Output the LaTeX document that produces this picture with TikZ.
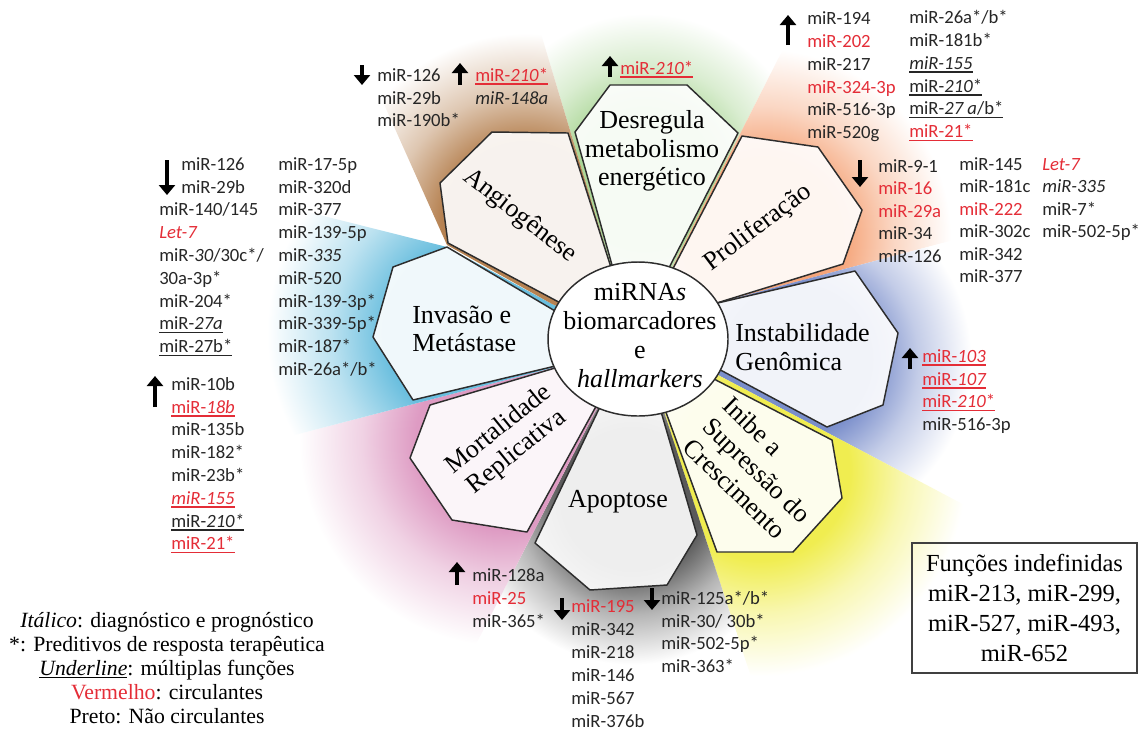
\documentclass[tikz,border=0pt]{standalone}
\usepackage{fontspec}
\setmainfont{Liberation Serif}
\newfontfamily\mirfont{Carlito}
\usetikzlibrary{arrows.meta}

\definecolor{mirred}{RGB}{228,45,55}
\definecolor{petalline}{RGB}{45,45,45}
\definecolor{glowgreen}{RGB}{172,215,152}
\definecolor{gloworange}{RGB}{245,165,122}
\definecolor{glowblue}{RGB}{122,142,203}
\definecolor{glowyellow}{RGB}{240,237,80}
\definecolor{glowgray}{RGB}{90,90,90}
\definecolor{glowpink}{RGB}{222,155,195}
\definecolor{glowcyan}{RGB}{105,190,222}
\definecolor{glowbrown}{RGB}{182,130,82}
\colorlet{glowcol}{glowgreen}

\pgfdeclareradialshading[glowcol]{glow}{\pgfpoint{0bp}{0bp}}{color(0bp)=(glowcol);
  color(10bp)=(glowcol); color(16bp)=(glowcol!45!white); color(23bp)=(white); color(50bp)=(white)}

\newcommand{\rd}[1]{\textcolor{mirred}{#1}}
\newcommand{\mirline}[1]{\setbox0=\hbox{#1}\leavevmode\rlap{\rule[-2.6pt]{\wd0}{1.1pt}}\box0}

\tikzset{
  petalbox/.style={draw=petalline, line width=1.1pt, fill=white, fill opacity=0.9, line join=round},
  hallmark/.style={font=\fontsize{19.5}{21.5}\selectfont, align=center, inner sep=0pt},
  mir/.style={font=\mirfont\fontsize{14}{17}\selectfont, text=black!85, anchor=west,
    inner sep=0pt, text height=9.5pt, text depth=3pt},
  mirarrow/.style={line width=3.3pt, -{Triangle[width=12pt,length=7.5pt]}},
}

\begin{document}
\begin{tikzpicture}[x=0.75pt,y=-0.75pt]
\useasboundingbox (0,0) rectangle (1144,733);

% coloured glows, one wedge per hallmark
\begin{scope}
\clip (638,339) -- (612,270) -- (468,-209) -- (901,-183) -- (675,262) -- cycle;
\colorlet{glowcol}{glowgreen}\shade[shading=glow] (644,179) circle (135pt);
\end{scope}
\begin{scope}
\clip (638,339) -- (675,262) -- (901,-183) -- (1203,174) -- (720,302) -- cycle;
\colorlet{glowcol}{gloworange}\shade[shading=glow] (762,238) circle (154pt);
\end{scope}
\begin{scope}
\clip (638,339) -- (720,302) -- (1203,174) -- (1158,607) -- (716,374) -- cycle;
\colorlet{glowcol}{glowblue}\shade[shading=glow] (797,359) circle (142pt);
\end{scope}
\begin{scope}
\clip (638,339) -- (716,374) -- (1158,607) -- (821,890) -- (665,415) -- cycle;
\colorlet{glowcol}{glowyellow}\shade[shading=glow] (760,470) circle (168pt);
\end{scope}
\begin{scope}
\clip (638,339) -- (665,415) -- (821,890) -- (367,857) -- (595,412) -- cycle;
\colorlet{glowcol}{glowgray}\shade[shading=glow] (632,499) circle (135pt);
\end{scope}
\begin{scope}
\clip (638,339) -- (595,412) -- (367,857) -- (64,495) -- (548,369) -- cycle;
\colorlet{glowcol}{glowpink}\shade[shading=glow] (505,440) circle (168pt);
\end{scope}
\begin{scope}
\clip (638,339) -- (548,369) -- (64,495) -- (-38,125) -- (447,247) -- (552,304) -- cycle;
\colorlet{glowcol}{glowcyan}\shade[shading=glow] (478,333) circle (172pt);
\end{scope}
\begin{scope}
\clip (638,339) -- (552,304) -- (447,245) -- (242,-213) -- (468,-209) -- (612,270) -- cycle;
\colorlet{glowcol}{glowbrown}\shade[shading=glow] (525,226) circle (157pt);
\end{scope}

% petals
\draw[petalbox] (616.7,282) -- (575,132) -- (610,85) -- (687,85) -- (738,133) -- (661.6,282.3) -- cycle;
\draw[petalbox] (664.5,285) -- (742,136) -- (818,147) -- (862,210) -- (843,264) -- (696,309.4) -- cycle;
\draw[petalbox] (697.6,307.7) -- (855,271) -- (898,333) -- (883,405) -- (827,427) -- (698,358) -- cycle;
\draw[petalbox] (689.8,366.5) -- (832,440) -- (842,498) -- (793,552) -- (717,552) -- (658.4,391.5) -- cycle;
\draw[petalbox] (655,391) -- (697,535) -- (667,585) -- (590,590) -- (535,543) -- (607.8,390.4) -- cycle;
\draw[petalbox] (605,390) -- (527,532) -- (452,520) -- (410,458) -- (430,405) -- (572,363) -- cycle;
\draw[petalbox] (571.3,362.2) -- (413,400) -- (373,337) -- (393,267) -- (447,247) -- (571.5,320.7) -- cycle;
\draw[petalbox] (577,311.8) -- (448,243) -- (440,183) -- (492,132) -- (568,133) -- (615.6,281.8) -- cycle;

% centre
\draw[draw=petalline, line width=1.1pt, fill=white] (638,339) ellipse [x radius=67.5pt, y radius=57.75pt];
\node[hallmark, font=\fontsize{19.5}{21.75}\selectfont] (hub) at (640,336) {miRNA\textit{s}\\biomarcadores\\e\\\textit{hallmarkers}};

% hallmark labels
\node[hallmark] (desreg) at (652,151) {Desregula\\metabolismo\\energético};
\node[hallmark, rotate=37] (prolif) at (758,228) {Proliferação};
\node[hallmark, align=left, anchor=west] (instab) at (735,347) {Instabilidade\\Genômica};
\node[hallmark, align=left, rotate=-44] (inibe) at (757,470) {Inibe a\\Supressão do\\Crescimento};
\node[hallmark] (apop) at (618,502) {Apoptose};
\node[hallmark, rotate=39] (mortal) at (508,441) {Mortalidade\\Replicativa};
\node[hallmark, align=left, anchor=west] (invas) at (412,329) {Invasão e\\Metástase};
\node[hallmark, rotate=-38] (angio) at (520,216) {Angiogênese};

% arrows
\draw[mirarrow] (362,65) -- (362,85);
\draw[mirarrow] (460,85) -- (460,63);
\draw[mirarrow] (610,77) -- (610,56);
\draw[mirarrow] (788,45) -- (788,15);
\draw[mirarrow] (860,160) -- (860,187);
\draw[mirarrow] (910,369) -- (910,348);
\draw[mirarrow] (167,160) -- (167,195);
\draw[mirarrow] (155,407) -- (155,376);
\draw[mirarrow] (457,585) -- (457,562);
\draw[mirarrow] (562,598) -- (562,620);
\draw[mirarrow] (652,588) -- (652,610);

% miRNA lists
\foreach \t [count=\i from 0] in {miR-126, miR-29b, miR-190b*}
  \node[mir] (angdn\i) at (377,{77+22.8*\i}) {\t};
\foreach \t [count=\i from 0] in {{\rd{\mirline{miR-\textit{210}*}}}, {\textit{miR-148a}}}
  \node[mir] (angup\i) at (475,{77+22.8*\i}) {\t};
\node[mir] (desup) at (620,70) {\rd{\mirline{miR-\textit{210}*}}};
\foreach \t [count=\i from 0] in {miR-194, \rd{miR-202}, miR-217, \rd{miR-324-3p}, miR-516-3p, miR-520g}
  \node[mir] (proupa\i) at (807,{20+22.9*\i}) {\t};
\foreach \t [count=\i from 0] in {miR-26a*/b*, miR-181b*, {\mirline{\textit{miR-155}}},
    {\mirline{miR-\textit{210}*}}, {\mirline{miR-\textit{27 a}/b*}}, {\rd{\mirline{miR-21*}}}}
  \node[mir] (proupb\i) at (909,{19+22.9*\i}) {\t};
\foreach \t [count=\i from 0] in {miR-9-1, \rd{miR-16}, \rd{miR-29a}, miR-34, miR-126}
  \node[mir] (prodna\i) at (878,{168+22.5*\i}) {\t};
\foreach \t [count=\i from 0] in {miR-145, miR-181c, \rd{miR-222}, miR-302c, miR-342, miR-377}
  \node[mir] (prodnb\i) at (959,{166+22.5*\i}) {\t};
\foreach \t [count=\i from 0] in {{\rd{\textit{Let-7}}}, {\textit{miR-335}}, miR-7*, miR-502-5p*}
  \node[mir] (prodnc\i) at (1042,{166+22.5*\i}) {\t};
\foreach \t [count=\i from 0] in {{\rd{\mirline{miR-\textit{103}}}}, {\rd{\mirline{miR-\textit{107}}}},
    {\rd{\mirline{miR-\textit{210}*}}}, miR-516-3p}
  \node[mir] (insup\i) at (922,{358+22.7*\i}) {\t};
\node[mir] (invdn0) at (181,166) {miR-126};
\node[mir] (invdn1) at (181,189) {miR-29b};
\foreach \t [count=\i from 2] in {miR-140/145, {\rd{\textit{Let-7}}}, {miR-\textit{30}/30c*/}, 30a-3p*,
    miR-204*, {\mirline{miR-\textit{27a}}}, {\mirline{miR-27b*}}}
  \node[mir] (invdn\i) at (159,{166+22.8*\i}) {\t};
\foreach \t [count=\i from 0] in {miR-17-5p, miR-320d, miR-377, miR-139-5p, {miR-\textit{335}}, miR-520,
    miR-139-3p*, miR-339-5p*, miR-187*, miR-26a*/b*}
  \node[mir] (invdnb\i) at (278,{166+22.8*\i}) {\t};
\foreach \t [count=\i from 0] in {miR-10b, {\rd{\mirline{miR-\textit{18b}}}}, miR-135b, miR-182*, miR-23b*,
    {\rd{\mirline{\textit{miR-155}}}}, {\mirline{miR-\textit{210*}}}, {\rd{\mirline{miR-21*}}}}
  \node[mir] (invup\i) at (171,{386+22.8*\i}) {\t};
\foreach \t [count=\i from 0] in {miR-128a, \rd{miR-25}, miR-365*}
  \node[mir] (morup\i) at (472,{577+23*\i}) {\t};
\foreach \t [count=\i from 0] in {\rd{miR-195}, miR-342, miR-218, miR-146, miR-567, miR-376b}
  \node[mir] (apodna\i) at (571,{608+23*\i}) {\t};
\foreach \t [count=\i from 0] in {miR-125a*/b*, miR-30/ 30b*, miR-502-5p*, miR-363*}
  \node[mir] (apodnb\i) at (661,{600+22.8*\i}) {\t};

% legend and box
\node[font=\fontsize{16.3}{18}\selectfont, align=center, inner sep=0pt] (legend) at (167,668) {\textit{Itálico}: diagnóstico e prognóstico\\*: Preditivos de resposta terapêutica\\\underline{\textit{Underline}}: múltiplas funções\\\textcolor{mirred}{Vermelho}: circulantes\\Preto: Não circulantes};
\node[draw=black!75, line width=1.2pt, minimum width=168.75pt, minimum height=97.5pt, align=center,
  font=\fontsize{18.4}{22.5}\selectfont] (undef) at (1024.5,608) {Funções indefinidas\\miR-213, miR-299,\\miR-527, miR-493,\\miR-652};
\end{tikzpicture}
\end{document}
